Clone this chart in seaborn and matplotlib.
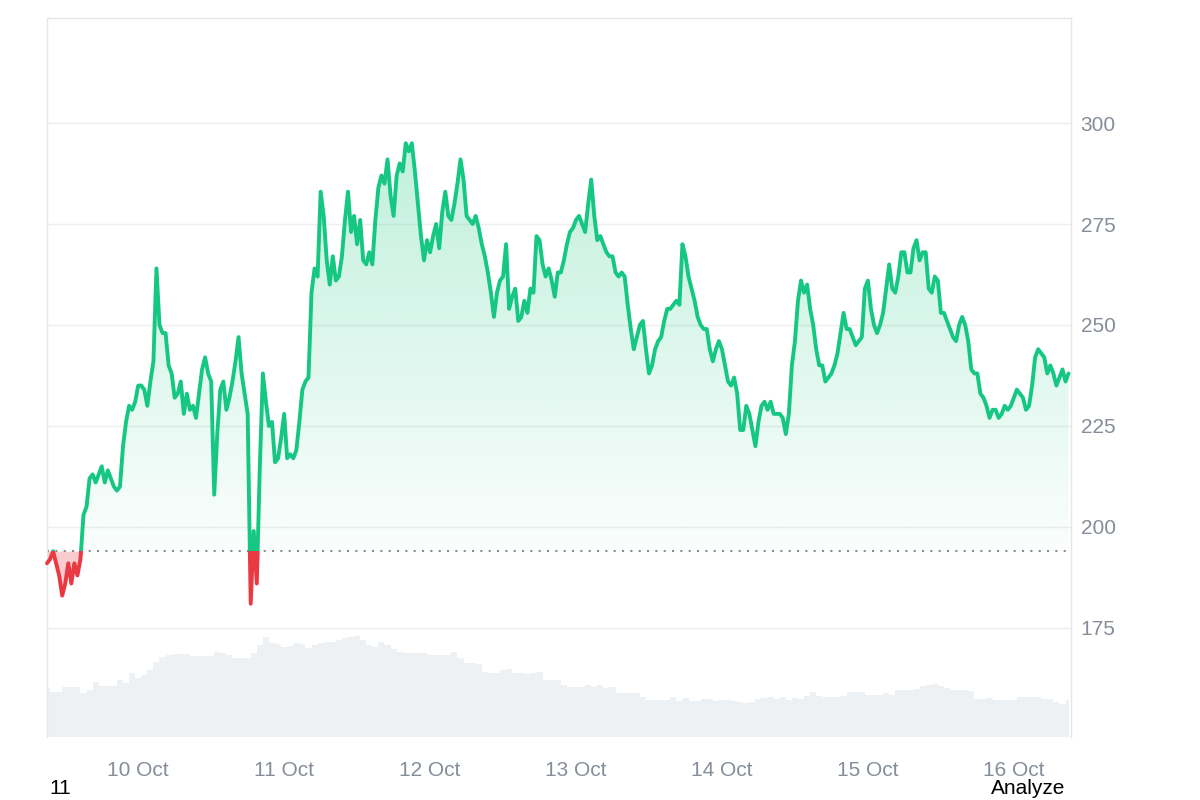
import numpy as np
import pandas as pd
import matplotlib
matplotlib.use('Agg')
import matplotlib.pyplot as plt
import matplotlib.dates as mdates
from matplotlib.colors import to_rgb
from matplotlib.patches import Rectangle, PathPatch
import seaborn as sns

GREEN = '#16c784'
RED = '#ea3943'
BASELINE = 194.0
START = '2024-10-09 09:00'

# half-hourly price, 9 Oct 09:00 -> 16 Oct 09:00
price = [
    191, 192, 194, 191, 188, 183, 186, 191, 186, 191,
    188, 192, 203, 205, 212, 213, 211, 213, 215, 211,
    214, 212, 210, 209, 210, 220, 226, 230, 229, 231,
    235, 235, 234, 230, 236, 241, 264, 250, 248, 248,
    240, 238, 232, 233, 236, 228, 233, 229, 230, 227,
    233, 239, 242, 238, 236, 208, 223, 234, 236, 229,
    232, 236, 241, 247, 238, 233, 228, 181, 199, 186,
    215, 238, 231, 225, 226, 216, 217, 222, 228, 217,
    218, 217, 219, 226, 234, 236, 237, 258, 264, 262,
    283, 277, 266, 260, 267, 261, 262, 267, 276, 283,
    273, 277, 270, 276, 266, 265, 268, 265, 276, 284,
    287, 285, 291, 282, 277, 287, 290, 288, 295, 293,
    295, 288, 280, 272, 266, 271, 268, 272, 275, 269,
    278, 283, 277, 276, 280, 285, 291, 286, 277, 276,
    275, 277, 274, 270, 267, 263, 258, 252, 258, 261,
    262, 270, 254, 257, 259, 251, 252, 256, 253, 259,
    258, 272, 271, 265, 262, 264, 261, 257, 263, 263,
    266, 270, 273, 274, 276, 277, 275, 273, 280, 286,
    277, 271, 272, 270, 268, 267, 267, 263, 262, 263,
    262, 255, 249, 244, 247, 250, 251, 244, 238, 240,
    244, 246, 247, 251, 254, 254, 255, 256, 255, 270,
    267, 262, 259, 256, 252, 250, 249, 249, 244, 241,
    244, 246, 244, 240, 236, 235, 237, 233, 224, 224,
    230, 228, 224, 220, 226, 230, 231, 229, 231, 228,
    228, 228, 227, 223, 228, 240, 246, 256, 261, 258,
    260, 254, 250, 244, 240, 240, 236, 237, 238, 240,
    243, 248, 253, 249, 249, 247, 245, 246, 247, 259,
    261, 254, 250, 248, 250, 253, 259, 265, 259, 258,
    262, 268, 268, 263, 263, 269, 271, 266, 268, 268,
    259, 258, 262, 261, 253, 253, 251, 249, 247, 246,
    250, 252, 250, 246, 239, 238, 238, 233, 232, 230,
    227, 229, 229, 227, 228, 230, 229, 230, 232, 234,
    233, 232, 229, 230, 235, 242, 244, 243, 242, 238,
    240, 238, 235, 237, 239, 236, 238,
]

# hourly volume (millions)
volume = [
    4.9, 4.5, 4.5, 5.0, 5.0, 5.0, 4.4, 4.7, 5.5, 5.1,
    5.1, 5.1, 5.7, 5.4, 6.4, 5.9, 6.2, 6.7, 7.5, 8.0,
    8.2, 8.3, 8.3, 8.3, 8.1, 8.1, 8.1, 8.1, 8.5, 8.4,
    8.2, 7.9, 7.9, 7.9, 8.4, 9.2, 10.0, 9.4, 9.3, 9.0,
    9.1, 9.4, 9.3, 8.9, 9.2, 9.4, 9.5, 9.5, 9.7, 9.9,
    10.0, 10.1, 9.7, 9.2, 9.0, 9.5, 9.2, 8.8, 8.5, 8.4,
    8.4, 8.4, 8.4, 8.2, 8.2, 8.2, 8.2, 8.5, 7.9, 7.4,
    7.4, 7.3, 6.5, 6.4, 6.4, 6.7, 6.8, 6.4, 6.4, 6.3,
    6.4, 6.5, 5.7, 5.7, 5.7, 5.2, 5.0, 5.0, 5.0, 5.2,
    5.0, 5.2, 4.9, 5.0, 4.4, 4.4, 4.4, 4.4, 4.0, 3.7,
    3.7, 3.7, 3.7, 4.0, 3.6, 3.9, 3.6, 3.6, 3.8, 3.8,
    3.6, 3.7, 3.7, 3.6, 3.5, 3.4, 3.5, 3.8, 3.9, 4.0,
    3.8, 4.0, 3.7, 3.9, 3.8, 4.1, 4.5, 4.1, 4.0, 4.0,
    4.0, 4.1, 4.5, 4.5, 4.5, 4.2, 4.2, 4.2, 4.4, 4.2,
    4.7, 4.7, 4.7, 4.8, 5.1, 5.2, 5.3, 5.1, 4.9, 4.7,
    4.7, 4.7, 4.6, 3.8, 3.8, 3.9, 3.7, 3.7, 3.7, 3.7,
    4.0, 4.0, 4.0, 4.0, 3.8, 3.8, 3.5, 3.3, 3.7,
]

y_ticks = [175, 200, 225, 250, 275, 300]

price_df = pd.DataFrame({
    'time': pd.date_range(START, periods=len(price), freq='30min'),
    'price': price,
})
vol_df = pd.DataFrame({
    'time': pd.date_range(START, periods=len(volume), freq='h'),
    'volume': volume,
})

sns.set_style('white')
plt.rcParams['font.family'] = ['Liberation Sans', 'DejaVu Sans']

fig = plt.figure(figsize=(12, 8), dpi=100)
rect = [47 / 1200, 63 / 800, 1024 / 1200, 719 / 800]
ax_vol = fig.add_axes(rect)
ax = fig.add_axes(rect, sharex=ax_vol)
ax.set_facecolor('none')

t_end = price_df['time'].iloc[-1]
xlim = (price_df['time'].iloc[0], t_end + pd.Timedelta(minutes=24))
ylim = (148, 326)

# volume underneath
ax_vol.fill_between(vol_df['time'], vol_df['volume'], step='mid', color='#eef1f4', lw=0)
ax_vol.set_ylim(0, 71.9)
ax_vol.axis('off')

# gradient fill above baseline
x0, x1 = mdates.date2num(xlim[0]), mdates.date2num(xlim[1])
grad = np.zeros((256, 1, 4))
grad[..., :3] = to_rgb(GREEN)
grad[:, 0, 3] = np.linspace(0.02, 0.27, 256)
im = ax.imshow(grad, extent=[x0, x1, BASELINE, max(price)], origin='lower',
               aspect='auto', zorder=1, interpolation='bilinear')
poly = ax.fill_between(price_df['time'], np.maximum(price_df['price'], BASELINE), BASELINE,
                       facecolor='none', lw=0)
clip = PathPatch(poly.get_paths()[0], transform=ax.transData,
                 facecolor='none', edgecolor='none')
ax.add_patch(clip)
im.set_clip_path(clip)

# red fill below baseline
ax.fill_between(price_df['time'], np.minimum(price_df['price'], BASELINE), BASELINE,
                color=RED, alpha=0.25, lw=0, zorder=1)

ax.axhline(BASELINE, color='#8a8a8a', lw=1.5, ls=(0, (1, 3)), zorder=2)

# line: green above baseline, red below
sns.lineplot(data=price_df, x='time', y='price', ax=ax, color=GREEN, lw=2.8, zorder=3)
green_line = ax.lines[-1]
sns.lineplot(data=price_df, x='time', y='price', ax=ax, color=RED, lw=2.8, zorder=3)
red_line = ax.lines[-1]
green_line.set_clip_path(Rectangle((x0 - 1, BASELINE), x1 - x0 + 2, 500,
                                   transform=ax.transData))
red_line.set_clip_path(Rectangle((x0 - 1, 0), x1 - x0 + 2, BASELINE,
                                 transform=ax.transData))

ax.set_xlim(*xlim)
ax.set_ylim(*ylim)
ax.set_xlabel('')
ax.set_ylabel('')

ax.yaxis.tick_right()
ax.set_yticks(y_ticks)
ax.tick_params(axis='y', length=0, pad=7, labelsize=15, labelcolor='#858d99')
ax.xaxis.set_major_locator(mdates.DayLocator())
ax.xaxis.set_major_formatter(mdates.DateFormatter('%d %b'))
ax.tick_params(axis='x', length=0, pad=17, labelsize=15, labelcolor='#858d99')
ax.grid(axis='y', color='#eeeeee', lw=1)
ax.grid(axis='x', visible=False)
ax.set_axisbelow(True)

for side in ['top', 'left', 'right']:
    ax.spines[side].set_color('#e6e6e6')
    ax.spines[side].set_linewidth(1)
ax.spines['bottom'].set_visible(False)

fig.text(49 / 1200, 1 - 789 / 800, '11', fontsize=15, va='center', ha='left', color='black')
fig.text(1065 / 1200, 1 - 789 / 800, 'Analyze', fontsize=15, va='center', ha='right', color='black')

fig.savefig('out.png', dpi=100)
